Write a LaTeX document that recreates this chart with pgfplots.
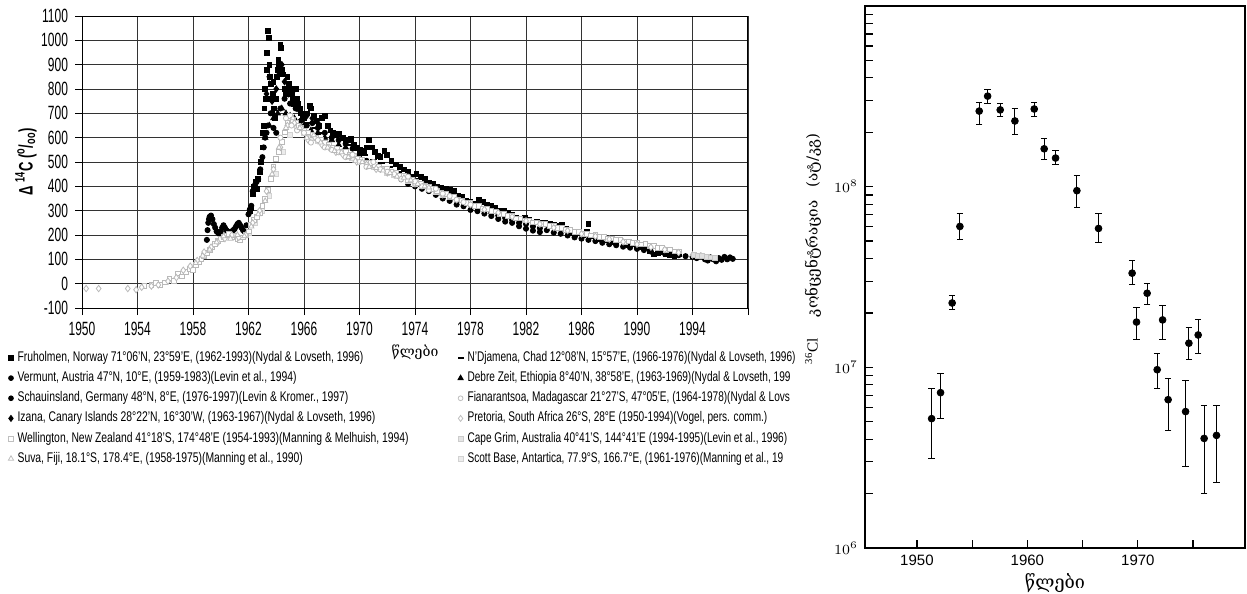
\documentclass[border=0pt]{standalone}
\usepackage{graphicx}
\usepackage{pgfplots}
\pgfplotsset{compat=1.18}
\usepackage{fontspec}
\setmainfont{Liberation Sans}
\newfontfamily\geo{DejaVu Serif}
\newfontfamily\serif{Liberation Serif}
\newcommand{\lgt}[1]{\scalebox{0.74}[1]{#1}}
\newcommand{\lgr}[1]{\scalebox{0.72}[1]{#1}}
\newcommand{\sy}[1]{\scalebox{1}[1.6]{#1}}
\newcommand{\lw}[1]{\makebox[218pt][l]{\lgt{#1}}}
\begin{document}
\begin{tikzpicture}
\useasboundingbox (0,0) rectangle (623.5pt,-297pt);
\begin{axis}[
 at={(41pt,-154pt)}, anchor=south west, scale only axis, width=333pt, height=146pt,
 xmin=1950, xmax=1998, ymin=-100, ymax=1100,
 xtick={1950,1954,...,1998}, minor x tick num=3,
 xticklabels={\sy{1950},\sy{1954},\sy{1958},\sy{1962},\sy{1966},\sy{1970},\sy{1974},\sy{1978},\sy{1982},\sy{1986},\sy{1990},\sy{1994},{}},
 ytick={-100,0,...,1100},
 yticklabels={\sy{-100},\sy{0},\sy{100},\sy{200},\sy{300},\sy{400},\sy{500},\sy{600},\sy{700},\sy{800},\sy{900},\sy{1000},\sy{1100}},
 grid=major, major grid style={black!80, line width=0.4pt},
 axis line style={black, line width=0.5pt},
 tick align=outside, xtick pos=bottom, ytick pos=left,
 major tick length=3.5pt, minor tick length=3.5pt,
 every tick/.style={black, line width=0.4pt},
 tick label style={font=\fontsize{6}{7}\selectfont},
 xlabel={\geo\fontsize{7}{8}\selectfont წლები},
 xlabel style={at={(axis description cs:0.5,0)}, anchor=center, yshift=-22pt},
 ylabel={\scalebox{0.87}[1.3]{\textbf{Δ \textsuperscript{14}C (\textsuperscript{o}/\textsubscript{oo})}}},
 ylabel style={at={(axis description cs:0,0.5)}, anchor=center, yshift=28pt, font=\fontsize{7.5}{8}\selectfont},
 legend style={at={(0,0)}, anchor=north west, xshift=-37pt, yshift=-19.5pt, draw=none, fill=none,
   font=\fontsize{7}{8}\selectfont, legend columns=2, row sep=-0.5pt, inner sep=0pt},
 legend cell align=left,
 legend image code/.code={\draw[#1] plot coordinates {(0pt,0pt)};},
]
% legend
\addlegendimage{only marks, mark=square*, mark size=1.2pt, black}
\addlegendentry{\lw{Fruholmen,  Norway 71°06'N, 23°59'E, (1962-1993)(Nydal \& Lovseth, 1996)}}
\addlegendimage{only marks, mark=-, mark size=1.5pt, black, line width=0.8pt}
\addlegendentry{\lgr{N'Djamena, Chad 12°08'N, 15°57'E, (1966-1976)(Nydal \& Lovseth, 1996)}}
\addlegendimage{only marks, mark=*, mark size=1.2pt, black}
\addlegendentry{\lw{Vermunt, Austria 47°N, 10°E, (1959-1983)(Levin et al., 1994)}}
\addlegendimage{only marks, mark=triangle*, mark size=1.5pt, black}
\addlegendentry{\lgr{Debre Zeit,  Ethiopia 8°40'N, 38°58'E, (1963-1969)(Nydal \& Lovseth, 199}}
\addlegendimage{only marks, mark=*, mark size=1.2pt, black}
\addlegendentry{\lw{Schauinsland, Germany 48°N, 8°E, (1976-1997)(Levin \& Kromer., 1997)}}
\addlegendimage{only marks, mark=*, mark size=1.2pt, draw=gray!50, fill=white}
\addlegendentry{\lgr{Fianarantsoa,  Madagascar 21°27'S, 47°05'E, (1964-1978)(Nydal \& Lovs}}
\addlegendimage{only marks, mark=diamond*, mark size=1.5pt, black}
\addlegendentry{\lw{Izana,  Canary Islands 28°22'N, 16°30'W, (1963-1967)(Nydal \& Lovseth, 1996)}}
\addlegendimage{only marks, mark=diamond*, mark size=1.5pt, draw=gray!50, fill=white}
\addlegendentry{\lgr{Pretoria, South Africa  26°S, 28°E (1950-1994)(Vogel, pers. comm.)}}
\addlegendimage{only marks, mark=square*, mark size=1.2pt, draw=gray!50, fill=white}
\addlegendentry{\lw{Wellington, New Zealand 41°18'S, 174°48'E (1954-1993)(Manning \& Melhuish, 1994)}}
\addlegendimage{only marks, mark=square*, mark size=1.2pt, draw=gray!40, fill=gray!20}
\addlegendentry{\lgr{Cape Grim, Australia 40°41'S, 144°41'E (1994-1995)(Levin et al., 1996)}}
\addlegendimage{only marks, mark=triangle*, mark size=1.5pt, draw=gray!50, fill=white}
\addlegendentry{\lw{Suva, Fiji, 18.1°S, 178.4°E, (1958-1975)(Manning et al., 1990)}}
\addlegendimage{only marks, mark=square*, mark size=1.2pt, draw=gray!35, fill=gray!15}
\addlegendentry{\lgr{Scott Base, Antartica, 77.9°S, 166.7°E, (1961-1976)(Manning et al., 19}}
% Vermunt
\addplot[forget plot, only marks, mark=*, mark size=1.3pt, black] coordinates {
(1959.0,180)(1959.05,220)(1959.1,250)(1959.15,265)(1959.2,275)(1959.3,280)(1959.4,265)(1959.5,245)(1959.6,230)(1959.7,215)(1959.8,210)(1959.9,205)(1960.0,215)(1960.1,230)(1960.2,240)(1960.3,230)(1960.4,220)(1960.5,215)(1960.6,212)(1960.7,210)(1960.8,215)(1960.9,220)(1961.0,225)(1961.1,235)(1961.2,245)(1961.3,250)(1961.4,240)(1961.5,230)(1961.6,220)(1961.7,215)(1961.85,240)(1962.0,285)(1962.1,305)(1962.2,320)(1962.3,380)(1962.4,400)(1962.5,410)(1962.6,420)(1962.7,430)(1962.85,470)(1963.0,520)(1963.1,560)(1963.2,600)(1963.3,620)(1963.4,650)(1963.6,700)(1963.8,640)(1964.0,620)(1964.3,720)(1964.6,760)(1965.0,740)(1965.4,720)(1965.8,670)(1966.2,650)(1966.6,660)(1967.0,640)(1967.5,620)(1968.0,600)(1968.5,590)(1969.0,575)(1969.5,555)(1970.0,530)(1970.5,505)(1971.0,485)(1971.5,470)(1972.0,465)(1972.5,455)(1973.0,430)(1973.5,410)(1974.0,400)(1974.5,390)(1975.0,380)(1975.5,365)(1976.0,350)(1976.5,340)(1977.0,325)(1977.5,318)(1978.0,303)(1978.5,298)(1979.0,288)(1979.5,278)(1980.0,266)(1980.5,255)(1981.0,250)(1981.5,236)(1982.0,226)(1982.5,218)(1983.0,212)};
% Fruholmen
\addplot[forget plot, only marks, mark=square*, mark size=1.2pt, black] coordinates {
(1962.1,300)(1962.2,310)(1962.3,370)(1962.4,400)(1962.5,420)(1962.6,390)(1962.7,430)(1962.8,460)(1962.9,500)(1963.0,560)(1963.05,620)(1963.1,650)(1963.15,720)(1963.2,800)(1963.25,760)(1963.3,880)(1963.35,950)(1963.4,1040)(1963.45,1010)(1963.5,900)(1963.55,850)(1963.6,820)(1963.65,760)(1963.7,700)(1963.75,780)(1963.8,830)(1963.85,720)(1963.9,680)(1964.0,760)(1964.05,850)(1964.1,880)(1964.15,920)(1964.2,900)(1964.3,980)(1964.35,970)(1964.4,880)(1964.5,860)(1964.6,800)(1964.7,780)(1964.8,850)(1964.9,820)(1965.0,800)(1965.1,780)(1965.2,760)(1965.3,740)(1965.4,800)(1965.5,760)(1965.6,740)(1965.7,720)(1965.8,700)(1965.9,690)(1966.0,680)(1966.2,700)(1966.4,730)(1966.5,720)(1966.7,690)(1966.9,670)(1967.1,650)(1967.3,680)(1967.5,690)(1967.7,650)(1967.9,630)(1968.1,620)(1968.3,610)(1968.5,615)(1968.8,600)(1969.0,590)(1969.2,590)(1969.4,595)(1969.6,570)(1969.8,560)(1970.0,550)(1970.3,545)(1970.5,560)(1970.7,590)(1970.9,560)(1971.1,540)(1971.3,525)(1971.5,520)(1971.8,545)(1972.0,530)(1972.3,505)(1972.6,490)(1972.9,480)(1973.2,470)(1973.5,460)(1973.8,440)(1974.1,450)(1974.4,440)(1974.7,430)(1975.0,415)(1975.3,410)(1975.6,400)(1975.9,395)(1976.2,390)(1976.5,385)(1976.8,380)(1977.1,360)(1977.4,355)(1977.7,340)(1978.0,335)(1978.3,330)(1978.6,345)(1978.9,335)(1979.2,325)(1979.5,320)(1979.8,310)(1980.1,300)(1980.4,300)(1980.7,290)(1981.0,285)(1981.3,270)(1981.6,260)(1981.9,270)(1982.2,262)(1982.5,252)(1982.8,255)(1983.1,250)(1983.4,252)(1983.7,248)(1984.0,240)(1984.3,238)(1984.6,242)(1984.9,225)(1985.2,210)(1985.5,205)(1985.8,210)(1986.1,200)(1986.4,215)(1986.5,245)(1986.7,195)(1987.0,190)(1987.3,185)(1987.6,190)(1987.9,180)(1988.2,170)(1988.5,175)(1988.8,180)(1989.1,165)(1989.4,160)(1989.7,165)(1990.0,155)(1990.3,150)(1990.6,150)(1990.9,135)(1991.2,120)(1991.5,125)(1991.8,130)(1992.1,120)(1992.4,118)(1992.7,115)(1993.0,120)};
% Schauinsland
\addplot[forget plot, only marks, mark=*, mark size=1.3pt, black] coordinates {
(1976.5,370)(1977.0,350)(1977.5,340)(1978.0,325)(1978.5,315)(1979.0,300)(1979.5,290)(1980.0,280)(1980.5,270)(1981.0,262)(1981.5,250)(1982.0,245)(1982.5,235)(1983.0,228)(1983.5,220)(1984.0,210)(1984.5,205)(1985.0,198)(1985.5,190)(1986.0,185)(1986.5,180)(1987.0,175)(1987.5,168)(1988.0,162)(1988.5,158)(1989.0,152)(1989.5,148)(1990.0,143)(1990.5,138)(1991.0,132)(1991.5,128)(1992.0,124)(1992.5,120)(1993.0,117)(1993.5,113)(1994.0,110)(1994.3,105)(1994.6,115)(1994.9,100)(1995.1,95)(1995.3,108)(1995.5,100)(1995.7,92)(1995.9,105)(1996.1,98)(1996.3,110)(1996.5,100)(1996.7,108)(1996.9,102)};
% Izana
\addplot[forget plot, only marks, mark=diamond*, mark size=1.6pt, black] coordinates {
(1963.3,780)(1963.5,850)(1963.7,750)(1964.0,800)(1964.2,860)(1964.4,900)(1964.6,830)(1964.9,780)(1965.2,790)(1965.5,720)(1965.8,700)(1966.2,690)(1966.6,680)(1967.0,660)};
% Debre Zeit
\addplot[forget plot, only marks, mark=triangle*, mark size=1.6pt, black] coordinates {
(1963.2,600)(1963.5,650)(1963.8,680)(1964.1,700)(1964.4,720)(1964.7,700)(1965.0,690)(1965.3,680)(1965.6,660)(1966.0,650)(1966.5,630)(1967.0,620)(1967.5,600)(1968.0,590)(1968.5,570)(1969.0,560)};
% N'Djamena
\addplot[forget plot, only marks, mark=-, mark size=1.6pt, black, line width=0.8pt] coordinates {
(1966.2,660)(1966.8,640)(1967.4,620)(1968.0,600)(1968.6,590)(1969.2,570)(1969.8,550)(1970.4,530)(1971.0,510)(1971.6,495)(1972.2,480)(1972.8,460)(1973.4,445)(1974.0,430)(1974.6,415)(1975.2,400)(1975.8,385)};
% Scott Base
\addplot[forget plot, only marks, mark=square*, mark size=1.2pt, draw=gray!35, fill=gray!15] coordinates {
(1961.5,190)(1962.0,210)(1962.5,250)(1963.0,300)(1963.5,360)(1964.0,450)(1964.5,540)(1965.0,610)(1965.5,640)(1966.0,620)(1966.5,600)(1967.0,585)(1967.5,570)(1968.0,555)(1968.5,540)(1969.0,530)(1969.5,515)(1970.0,505)(1970.5,490)(1971.0,480)(1971.5,470)(1972.0,455)(1972.5,445)(1973.0,435)(1973.5,420)(1974.0,410)(1974.5,400)(1975.0,390)(1975.5,375)(1976.0,365)};
% Wellington
\addplot[forget plot, only marks, mark=square*, mark size=1.2pt, draw=gray!55, fill=white] coordinates {
(1954.5,-10)(1955.0,-5)(1955.3,2)(1955.6,-5)(1956.0,5)(1956.3,22)(1956.6,10)(1956.9,42)(1957.2,30)(1957.5,48)(1957.8,62)(1958.0,55)(1958.2,78)(1958.4,90)(1958.6,102)(1958.8,115)(1959.0,128)(1959.2,140)(1959.4,152)(1959.6,162)(1959.8,175)(1960.0,185)(1960.2,192)(1960.4,198)(1960.6,205)(1960.8,190)(1961.0,198)(1961.2,185)(1961.4,178)(1961.6,190)(1961.8,200)(1962.0,215)(1962.2,240)(1962.4,262)(1962.6,275)(1962.8,292)(1963.0,320)(1963.2,350)(1963.4,385)(1963.6,430)(1963.8,480)(1964.0,512)(1964.2,540)(1964.4,582)(1964.6,622)(1964.8,662)(1965.0,690)(1965.2,672)(1965.4,660)(1965.6,648)(1965.8,640)(1966.0,628)(1966.3,622)(1966.6,612)(1966.9,600)(1967.2,592)(1967.5,578)(1967.8,572)(1968.1,558)(1968.4,555)(1968.7,542)(1969.0,542)(1969.3,528)(1969.6,527)(1969.9,512)(1970.2,508)(1970.5,498)(1970.8,497)(1971.1,488)(1971.4,482)(1971.7,472)(1972.0,472)(1972.3,458)(1972.6,457)(1972.9,443)(1973.2,442)(1973.5,428)(1973.8,427)(1974.1,418)(1974.4,412)(1974.7,403)(1975.0,397)(1975.3,388)(1975.6,382)(1975.9,373)(1976.2,370)(1976.5,358)(1976.8,357)(1977.1,346)(1977.4,342)(1977.7,333)(1978.0,332)(1978.3,320)(1978.6,320)(1978.9,308)(1979.2,307)(1979.5,298)(1979.8,297)(1980.1,288)(1980.4,287)(1980.7,278)(1981.0,278)(1981.3,268)(1981.6,268)(1981.9,260)(1982.2,260)(1982.5,252)(1982.8,252)(1983.1,244)(1983.4,244)(1983.7,236)(1984.0,236)(1984.3,228)(1984.6,228)(1984.9,220)(1985.2,220)(1985.5,212)(1985.8,212)(1986.1,205)(1986.4,206)(1986.7,198)(1987.0,199)(1987.3,192)(1987.6,192)(1987.9,185)(1988.2,186)(1988.5,179)(1988.8,180)(1989.1,173)(1989.4,174)(1989.7,168)(1990.0,168)(1990.3,161)(1990.6,162)(1990.9,155)(1991.2,155)(1991.5,148)(1991.8,148)(1992.1,140)(1992.4,141)(1992.7,133)(1993.0,133)};
% Pretoria
\addplot[forget plot, only marks, mark=diamond*, mark size=1.6pt, draw=gray!55, fill=white] coordinates {
(1950.3,-20)(1951.2,-20)(1953.3,-20)(1953.9,-25)(1954.3,-15)(1955.0,-10)(1955.5,-5)(1956.2,10)(1956.8,25)(1957.3,55)(1957.8,72)(1958.3,95)(1958.8,130)(1959.3,150)(1959.8,170)(1960.3,185)(1960.8,200)(1961.3,190)(1961.8,200)(1962.3,250)(1962.8,300)(1963.3,380)(1963.8,470)(1964.3,560)(1964.8,650)(1965.3,660)(1965.8,640)(1966.3,590)(1966.8,600)(1967.3,570)(1967.8,560)(1968.3,540)(1968.8,530)(1969.3,520)(1969.8,500)(1970.5,490)(1971.2,470)(1972.0,455)(1973.0,430)(1974.0,410)(1975.0,390)(1976.0,365)(1977.0,345)(1978.0,325)(1979.0,305)(1980.0,292)(1981.0,275)(1982.0,258)(1983.0,245)(1984.0,230)(1985.0,218)(1986.0,205)(1987.0,195)(1988.0,183)(1989.0,172)(1990.0,162)(1991.0,150)(1992.0,140)(1993.0,128)(1994.0,118)};
% Fianarantsoa
\addplot[forget plot, only marks, mark=*, mark size=1.3pt, draw=gray!55, fill=white] coordinates {
(1964.3,600)(1964.7,680)(1965.1,650)(1965.5,630)(1966.0,620)(1966.5,580)(1967.0,590)(1967.5,560)(1968.0,550)(1968.5,540)(1969.0,520)(1969.5,530)(1970.0,500)(1970.5,480)(1971.0,500)(1971.5,470)(1972.0,460)(1972.5,450)(1973.0,430)(1973.5,440)(1974.0,420)(1974.5,400)(1975.0,385)(1975.5,390)(1976.0,370)(1976.5,360)(1977.0,345)(1977.5,335)(1978.0,325)};
% Suva
\addplot[forget plot, only marks, mark=triangle*, mark size=1.5pt, draw=gray!55, fill=white] coordinates {
(1958.2,85)(1958.7,115)(1959.2,140)(1959.7,170)(1960.2,195)(1960.7,185)(1961.2,200)(1961.7,195)(1962.2,235)(1962.7,285)(1963.2,340)(1963.7,450)(1964.2,560)(1964.7,640)(1965.2,680)(1965.7,640)(1966.2,600)(1966.7,610)(1967.2,580)(1967.7,560)(1968.2,545)(1968.7,540)(1969.2,520)(1969.7,505)(1970.2,500)(1970.7,480)(1971.2,475)(1971.7,465)(1972.2,455)(1972.7,440)(1973.2,435)(1973.7,425)(1974.2,410)(1974.7,400)(1975.0,395)};
% Cape Grim
\addplot[forget plot, only marks, mark=square*, mark size=1.2pt, draw=gray!45, fill=gray!25] coordinates {
(1994.1,118)(1994.4,115)(1994.7,113)(1995.0,110)(1995.3,108)(1995.6,106)};
\end{axis}

\begin{axis}[
 at={(432.5pt,-274pt)}, anchor=south west, scale only axis, width=190pt, height=271pt,
 xmin=1945.3, xmax=1979.7, ymode=log, ymin=1e6, ymax=1e9,
 xtick={1950,1955,1960,1965,1970,1975}, xticklabels={1950,,1960,,1970,},
 ytick={1e6,1e7,1e8,1e9}, yticklabels={$10^6$,$10^7$,$10^8$,{}},
 minor ytick={2e6,3e6,4e6,5e6,6e6,7e6,8e6,9e6,2e7,3e7,4e7,5e7,6e7,7e7,8e7,9e7,2e8,3e8,4e8,5e8,6e8,7e8,8e8,9e8},
 tick align=inside, xtick pos=bottom, ytick pos=left,
 major tick length=4pt, minor tick length=4pt,
 axis line style={black, line width=0.7pt},
 every tick/.style={black, line width=0.6pt},
 xticklabel style={font=\fontsize{7.5}{8}\selectfont},
 yticklabel style={font=\fontsize{7}{8}\selectfont},
 xlabel={\geo\fontsize{9}{10}\selectfont წლები},
 xlabel style={at={(axis description cs:0.5,0)}, anchor=center, yshift=-17.5pt},
 ylabel={{\serif\textsuperscript{36}Cl}\hspace{10.5pt}{\geo კონცენტრაცია\hspace{6.7pt}(ატ/კგ)}},
 ylabel style={at={(axis description cs:0,0.552)}, anchor=center, yshift=26pt, font=\fontsize{7.6}{8}\selectfont},
]
\addplot[only marks, mark=*, mark size=1.7pt, black,
  error bars/.cd, y dir=both, y explicit,
  error bar style={line width=0.5pt},
  error mark options={rotate=90, mark size=1.6pt, line width=0.5pt}]
 table[x=x, y=y, y error plus=ep, y error minus=em] {
x y ep em
1951.33 5.2e6 2.4e6 2.07e6
1952.14 7.24e6 1.96e6 2.04e6
1953.19 2.27e7 0.23e7 0.17e7
1953.89 6.02e7 1.08e7 0.92e7
1955.64 2.62e8 0.32e8 0.40e8
1956.40 3.17e8 0.30e8 0.27e8
1957.54 2.66e8 0.24e8 0.20e8
1958.87 2.31e8 0.41e8 0.37e8
1960.62 2.69e8 0.25e8 0.23e8
1961.52 1.62e8 0.22e8 0.21e8
1962.55 1.44e8 0.14e8 0.12e8
1964.48 9.5e7 2.1e7 1.84e7
1966.44 5.87e7 1.23e7 0.96e7
1969.48 3.32e7 0.59e7 0.44e7
1969.88 1.78e7 0.35e7 0.36e7
1970.84 2.57e7 0.35e7 0.33e7
1971.75 9.7e6 2.2e6 2.1e6
1972.24 1.83e7 0.38e7 0.41e7
1972.74 6.62e6 2.03e6 2.15e6
1974.32 5.69e6 2.81e6 2.86e6
1974.62 1.36e7 0.31e7 0.26e7
1975.46 1.51e7 0.32e7 0.31e7
1976.00 4.04e6 2.10e6 2.03e6
1977.12 4.2e6 1.94e6 1.89e6
};
\end{axis}
\end{tikzpicture}
\end{document}
